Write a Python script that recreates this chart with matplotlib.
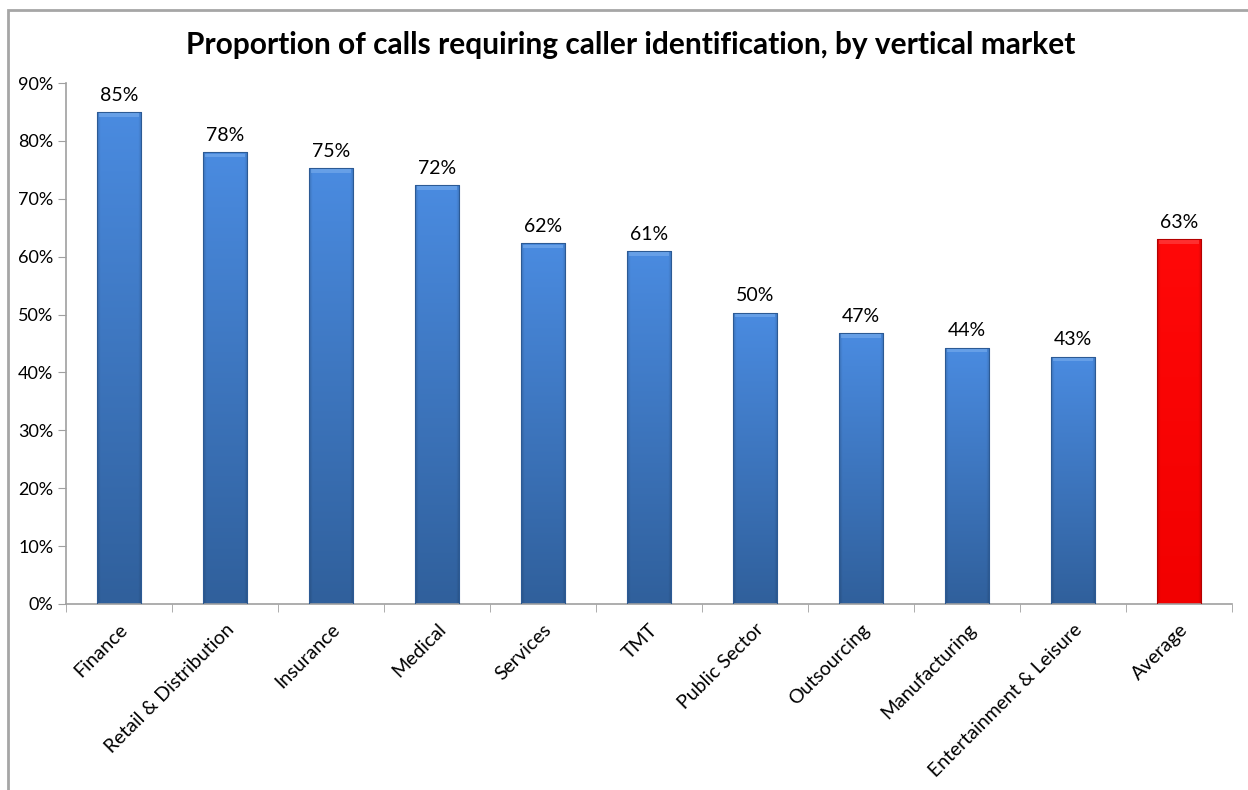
import numpy as np
import matplotlib
matplotlib.use("Agg")
import matplotlib.pyplot as plt
from matplotlib.patches import Rectangle
from matplotlib.colors import to_rgb

categories = ["Finance", "Retail & Distribution", "Insurance", "Medical", "Services",
              "TMT", "Public Sector", "Outsourcing", "Manufacturing",
              "Entertainment & Leisure", "Average"]
values = [0.85, 0.78, 0.753, 0.724, 0.623, 0.61, 0.503, 0.468, 0.443, 0.427, 0.63]
labels = ["85%", "78%", "75%", "72%", "62%", "61%", "50%", "47%", "44%", "43%", "63%"]
yticks = [0, 0.1, 0.2, 0.3, 0.4, 0.5, 0.6, 0.7, 0.8, 0.9]
ytick_labels = ["0%", "10%", "20%", "30%", "40%", "50%", "60%", "70%", "80%", "90%"]
title = "Proportion of calls requiring caller identification, by vertical market"

plt.rcParams['font.family'] = ['Lato', 'DejaVu Sans']

W, H = 1248, 790
fig = plt.figure(figsize=(W / 100, H / 100), dpi=100)
fig.patch.set_facecolor("white")

# outer chart border (top and left visible)
fig.patches.append(Rectangle((8 / W, -0.2), 1.2, (H - 10) / H + 0.2,
                             transform=fig.transFigure, fill=False,
                             edgecolor="#a6a6a6", linewidth=2, zorder=0))

ax = fig.add_axes([66 / W, (H - 604) / H, (1232 - 66) / W, (604 - 83) / H])
x = np.arange(len(categories))
width = 0.42


def grad_image(top_rgb, bot_rgb, n=64):
    t = np.linspace(0, 1, n)[:, None]  # 0 at top row
    top = np.array(top_rgb)[None, None, :]
    bot = np.array(bot_rgb)[None, None, :]
    img = top * (1 - t[..., None]) + bot * t[..., None]
    img = np.repeat(img, n, axis=1)
    s = np.linspace(-1, 1, n)
    edge = 1 - 0.15 * np.clip((np.abs(s) - 0.85) / 0.15, 0, 1)
    img = img * edge[None, :, None]
    return np.clip(img, 0, 1)


blue_img = grad_image(to_rgb("#4a8be0"), to_rgb("#30609c"))
red_img = grad_image(to_rgb("#ff0808"), to_rgb("#f20000"))

bars = ax.bar(x, values, width=width, color="none", edgecolor="none", zorder=2)
for i, b in enumerate(bars):
    x0, w, h = b.get_x(), b.get_width(), b.get_height()
    avg = categories[i] == "Average"
    img = red_img if avg else blue_img
    im = ax.imshow(img, extent=[x0, x0 + w, 0, h], aspect="auto", zorder=2,
                   interpolation="bilinear")
    im.set_clip_path(b)
    edge = "#b40000" if avg else "#2c5a94"
    ax.add_patch(Rectangle((x0, 0), w, h, fill=False, edgecolor=edge,
                           linewidth=0.8, zorder=3))
    hl = "#ff5050" if avg else "#7fb2ee"
    ax.add_patch(Rectangle((x0 + w * 0.05, h - 0.008), w * 0.9, 0.006,
                           facecolor=hl, edgecolor="none", alpha=0.55, zorder=3))
    ax.annotate(labels[i], (x[i], h), xytext=(0, 6), textcoords="offset points",
                ha="center", va="bottom", fontsize=14, color="black")

ax.set_xlim(-0.5, len(categories) - 0.5)
ax.set_ylim(0, 0.9)
ax.set_yticks(yticks)
ax.set_yticklabels(ytick_labels, fontsize=13)
ax.set_xticks(x)
ax.set_xticklabels(categories, rotation=45, ha="right", rotation_mode="anchor",
                   fontsize=14)
ax.tick_params(axis="x", which="major", length=0, pad=12)
ax.set_xticks(np.arange(-0.5, len(categories)), minor=True)
ax.tick_params(axis="x", which="minor", length=6, color="#a0a0a0", direction="out")
ax.tick_params(axis="y", length=6, color="#a0a0a0", direction="out", pad=3)

for s in ["top", "right"]:
    ax.spines[s].set_visible(False)
for s in ["left", "bottom"]:
    ax.spines[s].set_color("#a0a0a0")
    ax.spines[s].set_linewidth(1.2)

fig.text(0.505, (H - 45) / H, title, ha="center", va="center",
         fontsize=21.5, fontweight="bold")

fig.savefig("out.png", dpi=100)
